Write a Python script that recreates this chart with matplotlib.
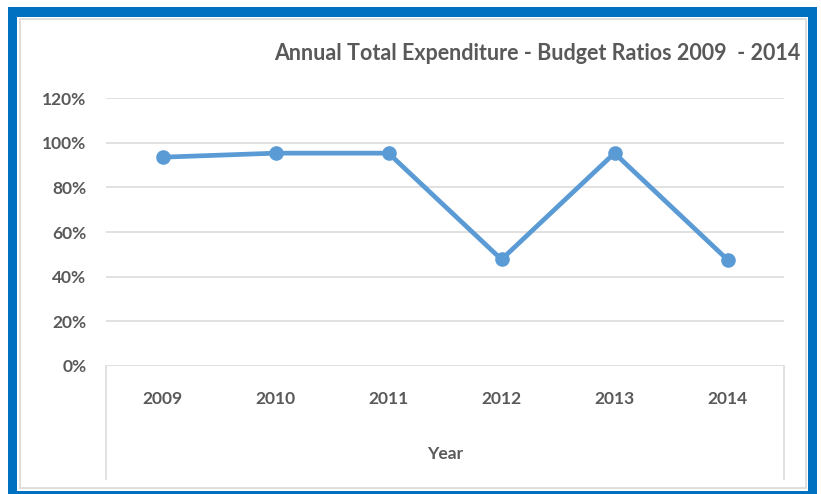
import numpy as np
from matplotlib import pyplot as plt
from matplotlib.patches import Rectangle
from matplotlib.lines import Line2D

years = ['2009', '2010', '2011', '2012', '2013', '2014']
ratios = [93.5, 95.3, 95.3, 47.7, 95.3, 47.6]
y_ticks = [0, 20, 40, 60, 80, 100, 120]

W, H = 821, 494
grey = '#595959'
plt.rcParams['font.family'] = ['Lato', 'DejaVu Sans']

fig = plt.figure(figsize=(W/100, H/100), dpi=100)

def px(x0, y0, x1, y1):
    # pixel box (top-left origin) -> figure coords
    return x0/W, 1 - y1/H, (x1-x0)/W, (y1-y0)/H

# blue frame, white panel, light grey inner border
x, y, w, h = px(8, 7, 817, 494)
fig.patches.append(Rectangle((x, y), w, h, transform=fig.transFigure, facecolor='#0070C0', edgecolor='none', zorder=-3))
x, y, w, h = px(17, 17, 808, 491)
fig.patches.append(Rectangle((x, y), w, h, transform=fig.transFigure, facecolor='white', edgecolor='none', zorder=-2))
x, y, w, h = px(19.5, 19.5, 806, 488)
fig.patches.append(Rectangle((x, y), w, h, transform=fig.transFigure, facecolor='none', edgecolor='#D9D9D9', linewidth=1.2, zorder=-1))

ax = fig.add_axes(px(106, 98, 784, 366))
ax.set_facecolor('none')

xs = np.arange(len(years)) + 0.5
ax.plot(xs, ratios, color='#5B9BD5', linewidth=3.4, marker='o', ms=9.5, clip_on=False, zorder=3)

ax.set_xlim(0, len(years))
ax.set_ylim(0, 120)
ax.set_yticks(y_ticks)
ax.set_yticklabels([f'{t}%' for t in y_ticks])
ax.set_xticks(xs)
ax.set_xticklabels(years)

ax.grid(axis='y', color='#D9D9D9', linewidth=1.1)
ax.set_axisbelow(True)
for s in ax.spines.values():
    s.set_visible(False)

ax.tick_params(axis='both', length=0, labelsize=12.5, labelcolor=grey)
ax.tick_params(axis='y', pad=14)
ax.tick_params(axis='x', pad=18)
for lab in ax.get_xticklabels() + ax.get_yticklabels():
    lab.set_fontweight('bold')

ax.set_xlabel('Year', fontsize=12.5, fontweight='bold', color=grey, labelpad=28)

# category axis box lines
for xp in (106, 784):
    fig.lines.append(Line2D([xp/W, xp/W], [1 - 366/H, 1 - 479/H], transform=fig.transFigure, color='#D9D9D9', linewidth=1.1))

fig.text(800/W, 1 - 53/H, 'Annual Total Expenditure - Budget Ratios 2009  - 2014',
         ha='right', va='center', fontsize=15.5, fontweight='bold', color=grey)

fig.savefig('out.png', dpi=100)
